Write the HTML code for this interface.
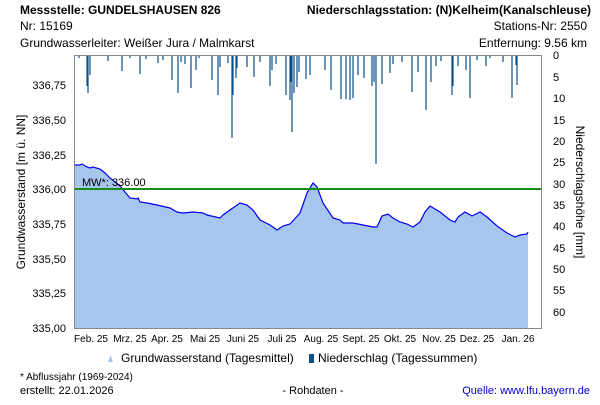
<!DOCTYPE html>
<html><head><style>
body{margin:0;background:#fff;}
svg text{font-family:"Liberation Sans",sans-serif;}
</style></head><body>
<svg width="600" height="400" xmlns="http://www.w3.org/2000/svg">
<rect width="600" height="400" fill="#fff"/>
<g font-size="12" font-weight="bold" fill="#000">
<text x="20" y="14">Messstelle: GUNDELSHAUSEN 826</text>
<text x="591" y="14" text-anchor="end">Niederschlagsstation: (N)Kelheim(Kanalschleuse)</text>
</g>
<g font-size="12" fill="#000">
<text x="20" y="30">Nr: 15169</text>
<text x="20" y="47">Grundwasserleiter:   Weißer Jura / Malmkarst</text>
<text x="587" y="30" text-anchor="end">Stations-Nr: 2550</text>
<text x="587" y="47" text-anchor="end">Entfernung: 9.56 km</text>
</g>
<path d="M75,328 L75,165 80,165 82,164 87,167 90,168 93,167 100,169 105,173 110,178 120,186 125,192 130,198 137,199 138,198 140,202 147,203 157,205 170,208 177,212 183,213 193,212 203,213 207,215 220,218 223,215 230,210 240,203 247,205 253,210 260,220 270,225 277,230 283,226 290,224 300,213 307,193 313,183 317,187 323,203 333,218 340,220 343,223 353,223 363,225 373,227 377,227 382,216 388,214 393,218 400,222 407,224 413,227 420,222 425,212 430,206 440,212 450,220 455,222 458,217 465,212 472,216 480,212 487,217 497,226 507,233 515,237 520,235 527,234 528,232 L528,328 Z" fill="#a7c6ee"/>
<path d="M75,165 80,165 82,164 87,167 90,168 93,167 100,169 105,173 110,178 120,186 125,192 130,198 137,199 138,198 140,202 147,203 157,205 170,208 177,212 183,213 193,212 203,213 207,215 220,218 223,215 230,210 240,203 247,205 253,210 260,220 270,225 277,230 283,226 290,224 300,213 307,193 313,183 317,187 323,203 333,218 340,220 343,223 353,223 363,225 373,227 377,227 382,216 388,214 393,218 400,222 407,224 413,227 420,222 425,212 430,206 440,212 450,220 455,222 458,217 465,212 472,216 480,212 487,217 497,226 507,233 515,237 520,235 527,234 528,232" fill="none" stroke="#0000ee" stroke-width="1.2"/>
<line x1="75" y1="189" x2="542" y2="189" stroke="#1a8a1a" stroke-width="2"/>
<text x="82" y="186" font-size="11">MW*: 336.00</text>
<g stroke="#0b4f8a" stroke-width="1.2">
<path d="M79,55V58 M87,55V86 M88,55V93 M90,55V75 M108,55V61 M122,55V71 M130,55V58 M140,55V74 M146,55V59 M158,55V63 M163,55V60 M172,55V80 M178,55V93 M181,55V62 M185,55V64 M191,55V88 M196,55V70 M199,55V58 M212,55V80 M218,55V95 M220,55V67 M228,55V63 M232,55V138 M233,55V95 M236,55V78 M237,55V68 M247,55V67 M254,55V77 M260,55V62 M270,55V86 M272,55V70 M276,55V64 M286,55V95 M290,55V100 M291,55V82 M292,55V132 M294,55V93 M297,55V87 M299,55V72 M306,55V79 M310,55V75 M325,55V70 M331,55V90 M341,55V99 M346,55V99 M350,55V100 M353,55V98 M358,55V75 M364,55V78 M372,55V86 M374,55V82 M376,55V164 M382,55V84 M390,55V73 M393,55V64 M402,55V62 M412,55V92 M418,55V72 M426,55V110 M431,55V82 M436,55V66 M441,55V61 M452,55V95 M453,55V86 M458,55V66 M466,55V70 M470,55V98 M477,55V60 M486,55V66 M490,55V58 M503,55V62 M512,55V98 M516,55V65 M517,55V85"/>
</g>
<g stroke="#888" stroke-width="1" fill="none">
<line x1="74.5" y1="55" x2="74.5" y2="328"/>
<line x1="74" y1="328.5" x2="542" y2="328.5"/>
<line x1="541.5" y1="55" x2="541.5" y2="328"/>
<line x1="74" y1="55.5" x2="542" y2="55.5"/>
</g>
<g font-size="11" fill="#000" text-anchor="end">
<text x="66" y="89">336,75</text><text x="66" y="124">336,50</text><text x="66" y="159">336,25</text>
<text x="66" y="193">336,00</text><text x="66" y="228">335,75</text><text x="66" y="263">335,50</text>
<text x="66" y="297">335,25</text><text x="66" y="332">335,00</text>
</g>
<g font-size="11" fill="#000" text-anchor="start">
<text x="553" y="59">0</text><text x="553" y="81">5</text><text x="553" y="102">10</text><text x="553" y="124">15</text>
<text x="553" y="145">20</text><text x="553" y="166">25</text><text x="553" y="188">30</text><text x="553" y="209">35</text>
<text x="553" y="230">40</text><text x="553" y="252">45</text><text x="553" y="273">50</text><text x="553" y="294">55</text>
<text x="553" y="316">60</text>
</g>
<g font-size="10" fill="#000" text-anchor="middle">
<text x="91" y="342">Feb. 25</text><text x="130" y="342">Mrz. 25</text><text x="167" y="342">Apr. 25</text>
<text x="205" y="342">Mai 25</text><text x="243" y="342">Juni 25</text><text x="282" y="342">Juli 25</text>
<text x="321" y="342">Aug. 25</text><text x="361" y="342">Sept. 25</text><text x="400" y="342">Okt. 25</text>
<text x="439" y="342">Nov. 25</text><text x="477" y="342">Dez. 25</text><text x="518" y="342">Jan. 26</text>
</g>
<text transform="translate(25,192) rotate(-90)" font-size="12" text-anchor="middle">Grundwasserstand [m ü. NN]</text>
<text transform="translate(576,192) rotate(90)" font-size="12" text-anchor="middle">Niederschlagshöhe [mm]</text>
<path d="M108,362 L113,362 L110.5,355 Z" fill="#a7c6ee"/>
<text x="121" y="362" font-size="12">Grundwasserstand (Tagesmittel)</text>
<rect x="309" y="354" width="5" height="9" fill="#0b4f8a"/>
<text x="318" y="362" font-size="12">Niederschlag (Tagessummen)</text>
<text x="20" y="380" font-size="10">* Abflussjahr (1969-2024)</text>
<text x="20" y="394" font-size="11">erstellt:   22.01.2026</text>
<text x="313" y="394" font-size="11" text-anchor="middle">- Rohdaten -</text>
<text x="590" y="394" font-size="11" text-anchor="end" fill="#0000cc">Quelle: www.lfu.bayern.de</text>
</svg>
</body></html>
